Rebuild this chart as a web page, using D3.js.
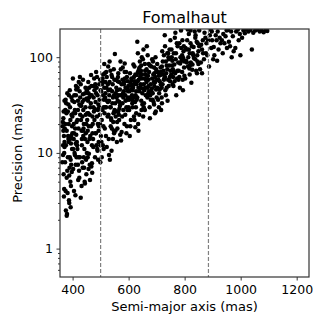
<!DOCTYPE html>
<html>
<head>
<meta charset="utf-8">
<script src="https://cdn.jsdelivr.net/npm/d3@7"></script>
<style>
  body { margin: 0; background: #fff; }
  text { font-family: "DejaVu Sans", sans-serif; fill: #000; }
</style>
</head>
<body>
<div id="chart"></div>
<script>

var title = "Fomalhaut";
var xLabel = "Semi-major axis (mas)";
var yLabel = "Precision (mas)";

var xTicks = [400, 600, 800, 1000, 1200];
var yTicks = [1, 10, 100];
var dashedAt = [500, 885];

// [semi-major axis, precision]
var orbits = [
  [372,18],[366,12],[389,7],[378,26],[394,4.5],[369,15],[383,9],[387,3.2],[365,21],[398,11],[376,2.5],[391,30],[368,6],[385,14],[380,2.3],[373,8],[396,38],[367,17],[382,3.8],[399,24],[370,10],[392,5],[379,2.2],[386,13],[374,28],[395,7.5],[364,19],[388,3],[381,42],[371,11.5],[397,6.3],[377,33],[384,15],[393,2.7],[367,23],[390,9],[375,4],[399,16],[363,8],[386,20],[371,35],[394,12.5],[379,5.5],[369,3.5],[390,45],
  [418,48],[405,4],[437,17],[411,12.5],[446,30],[402,6.8],[429,3.4],[414,21],[441,36],[407,10],[433,14],[420,5.2],[403,26],[448,8.5],[425,44],[410,3.6],[439,18],[416,12],[431,31],[444,4.8],[422,55],[408,9.5],[435,24],[413,15.5],[449,6],[427,38],[404,20],[442,11],[419,28],[436,7],[412,50],[447,16],[424,5.5],[406,34],[440,9],[430,22],[415,13],[445,42],[409,26],[434,8],[421,18],[401,60],[443,5],[428,31],[417,11],[438,15],[423,6.5],[450,37],[412,40],[432,4.5],[426,9],[404,14],[447,25],[419,7.5],[437,58],
  [471,24],[458,9.8],[486,48],[462,5.2],[494,19],[453,13],[479,29],[467,7.2],[498,58],[455,35],[483,16],[470,6.2],[452,22],[489,10.5],[464,40],[476,27],[499,8],[460,14],[481,52],[457,6.8],[492,32],[466,19],[474,11.5],[451,45],[487,24],[469,7.8],[496,36],[463,15],[477,60],[454,9],[490,28],[472,20],[459,48],[485,12],[465,33],[497,25],[480,9],[456,55],[493,17],[468,40],[451,10],[478,22],[495,30],[461,7.5],[484,70],[473,14],[500,45],[458,19],[488,11],[466,65],[491,8.5],[475,38],[452,26],[482,16],[499,12],
  [523,35],[508,12],[541,62],[514,26],[533,8.5],[502,44],[547,17],[519,30],[527,80],[511,11],[538,22],[505,52],[544,14],[516,38],[530,9.5],[549,27],[509,66],[536,19],[521,48],[503,13],[542,33],[525,24],[513,85],[548,16],[531,40],[506,56],[539,10.5],[518,30],[545,21],[528,45],[501,15],[535,72],[512,36],[546,26],[522,11.5],[507,60],[540,18],[517,42],[532,90],[550,28],[510,19],[543,52],[526,34],[504,9],[537,23],[515,68],[529,14],[548,40],[520,70],[534,30],
  [573,13.5],[556,48],[588,25],[562,62],[595,36],[553,17],[579,78],[567,29],[598,44],[559,21],[584,55],[570,15.5],[552,33],[591,70],[564,40],[577,24],[599,50],[558,13],[586,86],[569,31],[594,19],[555,58],[581,38],[563,27],[597,46],[575,16.5],[551,108],[589,35],[566,22],[583,52],[554,42],[596,28],[572,75],[560,18],[587,60],[578,33],[593,47],[565,25],[585,20],[557,38],[600,30],[571,90],[592,16],[561,56],[580,42],
  [623,34],[608,22],[641,62],[614,45],[635,17],[602,28],[647,100],[619,52],[631,38],[606,19],[644,72],[626,30],[611,57],[638,25],[617,84],[649,42],[604,15],[629,65],[615,35],[642,48],[621,22],[633,110],[610,60],[646,28],[625,40],[637,75],[603,44],[628,52],[613,33],[648,66],[631,145],[619,24],[640,90],[607,38],[634,20],[622,56],[645,35],[616,48],[639,78],[605,68],[627,26],[650,47],[612,40],[636,58],[624,18.5],
  [672,85],[656,45],[689,34],[661,66],[694,26],[653,120],[679,52],[667,38],[698,75],[658,28],[684,60],[670,42],[651,95],[691,32],[664,55],[676,23],[699,70],[660,48],[686,36],[668,105],[695,62],[654,30],[681,80],[673,44],[697,27],[662,58],[687,90],[671,50],[655,33],[692,68],[677,40],[665,130],[683,47],[700,38],[659,72],[690,55],[675,30],[652,24],[696,100],[669,64],
  [724,72],[708,30],[741,110],[715,52],[733,40],[702,85],[747,62],[719,33],[730,130],[711,46],[744,95],[726,58],[705,36],[738,75],[716,28],[749,150],[721,52],[734,68],[709,42],[742,100],[727,60],[704,48],[736,82],[718,38],[746,120],[713,65],[731,45],[748,56],[722,90],[706,58],[739,35],[729,170],[714,78],[743,50],[720,115],
  [772,140],[757,52],[789,92],[762,70],[794,45],[753,120],[781,62],[767,180],[798,78],[760,50],[785,100],[770,40],[752,66],[792,150],[777,88],[764,56],[796,115],[773,60],[758,75],[787,190],[768,95],[799,64],[775,130],[755,82],[783,48],[791,105],[765,160],[779,72],[797,130],[761,110],
  [822,88],[808,120],[841,72],[815,175],[833,98],[802,60],[847,140],[819,82],[829,110],[811,195],[844,68],[826,130],[805,92],[838,160],[817,76],[849,115],[824,54],[836,185],[813,100],[843,145],[828,84],[803,125],[839,170],[818,66],[831,105],[809,150],[846,90],[821,190],
  [852,130],[871,180],[858,88],[884,150],[866,110],[893,195],[855,75],[878,140],[862,120],[890,170],[869,95],[897,185],[859,135],[881,105],[874,160],[852,190],[887,80],[865,150],[895,125],[876,110],[862,68],[898,150],
  [914,150],[902,95],[938,175],[921,120],[955,192],[928,140],[906,105],[946,165],[962,130],[918,185],[975,115],[933,150],[990,195],[951,125],[911,170],[968,100],[942,140],[984,185],[925,160],[958,145],[997,175],[904,128],[972,165],[936,110],[981,125],[950,190],[993,150],[916,92],[966,185],[999,105],
  [1005,160],[1010,190],[1015,178],[1020,195],[1028,185],[1035,192],[1040,120],[1045,180],[1052,190],[1060,195],[1068,185],[1075,190],[1082,182],[1090,193],[1095,188],
  // the dense core of the band
  [383,27],[398,19],[366,9.5],[391,14],[375,36],[388,5.8],[371,13],[396,25],[379,17],[385,32],[393,8.5],[368,27],[376,12],[399,35],[381,6.5],[392,22],[370,4.2],[387,40],[395,15],[374,20],
  [405,16],[427,25],[414,9],[440,20],[419,35],[408,28],[433,12],[446,48],[402,11],[424,32],[437,41],[411,7.5],[444,14],[417,22],[429,52],[406,40],[438,28],[421,9],[449,20],[413,46],[432,17],[426,62],[441,7],[409,18],[435,34],
  [456,26],[478,45],[463,30],[489,40],[471,16],[495,52],[459,38],[482,34],[467,50],[493,13],[454,17],[487,62],[474,30],[498,20],[461,25],[484,42],[469,12],[490,20],[476,50],[457,42],
  [507,28],[532,55],[515,18],[541,44],[522,62],[509,40],[536,30],[547,75],[513,48],[528,25],[544,38],[519,15],[534,46],[504,22],[549,58],[526,52],[511,30],[539,65],[517,55],[530,35],
  [557,27],[583,44],[566,55],[594,62],[572,40],[589,48],[561,35],[578,58],[598,38],[554,24],[586,70],[569,46],[592,30],[575,52],[563,68],[581,28],[597,56],[559,45],[588,40],[567,34],
  [609,46],[632,56],[617,38],[643,52],[624,66],[606,54],[638,44],[614,30],[647,60],[621,80],[629,36],[641,68],[611,50],[635,48],[602,36],[645,82],[619,62],[627,44],[649,32],[633,70],
  [657,60],[681,44],[664,75],[692,50],[671,58],[688,66],[654,52],[676,82],[698,46],[661,40],[684,95],[668,48],[695,55],[673,70],[658,85],[679,36],[691,78],[666,64],[699,58],[686,42],
  [708,64],[733,90],[715,70],[741,58],[722,66],[745,82],[711,56],[736,48],[726,105],[718,48],[749,72],[730,62],[704,70],[738,110],[719,80],
  [756,92],[778,58],[763,84],[791,70],[769,110],[784,86],[759,62],[795,98],[774,72],[788,125],[766,68],[799,90],[781,140],[754,100],[793,58],
  [808,88],[827,74],[815,120],[838,95],[821,140],[845,105],[812,80],[832,128],[849,85],[818,110]
];

var width = 319, height = 319;
var margin = {top: 29, right: 10, bottom: 42, left: 60};
var w = width - margin.left - margin.right;
var h = height - margin.top - margin.bottom;

var svg = d3.select("#chart").append("svg")
  .attr("width", width)
  .attr("height", height);

var g = svg.append("g")
  .attr("transform", "translate(" + margin.left + "," + margin.top + ")");

var x = d3.scaleLinear().domain([355, 1244]).range([0, w]);
var y = d3.scaleLog().domain([0.505, 197]).range([h, 0]);

g.append("clipPath").attr("id", "clip")
  .append("rect").attr("width", w).attr("height", h);

// the cloud of points
g.append("g")
  .attr("clip-path", "url(#clip)")
  .selectAll("circle")
  .data(orbits)
  .enter().append("circle")
  .attr("cx", function(d) { return x(d[0]); })
  .attr("cy", function(d) { return y(d[1]); })
  .attr("r", 2.25)
  .style("fill", "#000");

// dashed reference lines
g.selectAll(".vline")
  .data(dashedAt)
  .enter().append("line")
  .attr("class", "vline")
  .attr("x1", function(d) { return x(d); })
  .attr("x2", function(d) { return x(d); })
  .attr("y1", 0)
  .attr("y2", h)
  .style("stroke", "#808080")
  .style("stroke-width", 1.2)
  .style("stroke-dasharray", "4,2");

// axes
var xAxis = d3.axisBottom(x).tickValues(xTicks).tickSize(3.5).tickPadding(4.5).tickFormat(d3.format("d"));
var gx = g.append("g")
  .attr("transform", "translate(0," + h + ")")
  .call(xAxis);

var minor = [];
[0.1, 1, 10, 100].forEach(function(dec) {
  for (var k = 2; k <= 9; k++) {
    var v = dec * k;
    if (v >= 0.505 && v <= 197) minor.push(v);
  }
});

var gyMinor = g.append("g")
  .call(d3.axisLeft(y).tickValues(minor).tickSize(2).tickFormat(""));
gyMinor.select(".domain").remove();

var gy = g.append("g")
  .call(d3.axisLeft(y).tickValues(yTicks).tickSize(3.5).tickPadding(3.5).tickFormat(d3.format("d")));

[gx, gy, gyMinor].forEach(function(a) {
  a.selectAll("text").style("font-size", "12.5px").style("font-family", "DejaVu Sans");
  a.selectAll("line").style("stroke", "#000").style("stroke-width", 0.8);
});
gx.select(".domain").remove();
gy.select(".domain").remove();

// frame
g.append("rect")
  .attr("width", w)
  .attr("height", h)
  .style("fill", "none")
  .style("stroke", "#333")
  .style("stroke-width", 1.2);

svg.append("text")
  .attr("x", margin.left + w / 2)
  .attr("y", 23)
  .attr("text-anchor", "middle")
  .style("font-size", "16px")
  .text(title);

svg.append("text")
  .attr("x", margin.left + w / 2)
  .attr("y", 311)
  .attr("text-anchor", "middle")
  .style("font-size", "13px")
  .text(xLabel);

svg.append("text")
  .attr("transform", "translate(22," + (margin.top + h / 2) + ") rotate(-90)")
  .attr("text-anchor", "middle")
  .style("font-size", "13px")
  .text(yLabel);

</script>
</body>
</html>
